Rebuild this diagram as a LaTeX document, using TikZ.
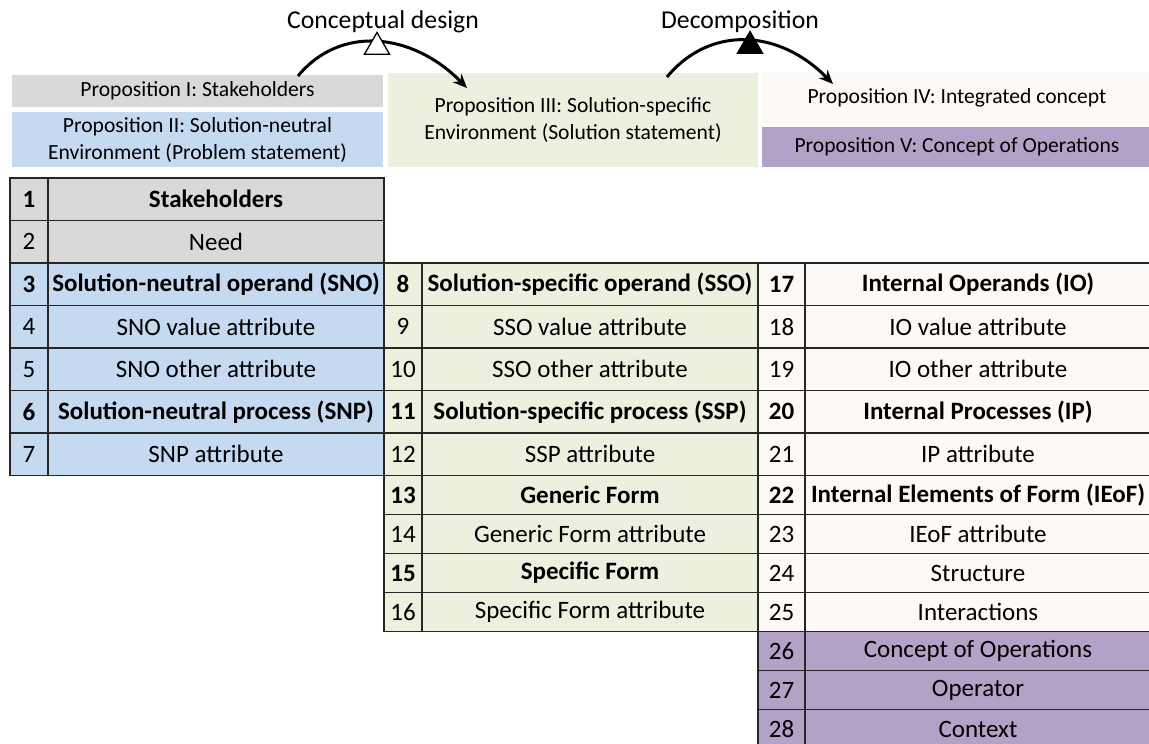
\documentclass[tikz,border=0pt]{standalone}
\usepackage{fontspec}
\setmainfont{Carlito}
\usetikzlibrary{arrows.meta,shapes.geometric}

\definecolor{graycell}{HTML}{D9D9D9}
\definecolor{bluecell}{HTML}{C5D9F1}
\definecolor{greencell}{HTML}{EBF1DE}
\definecolor{whitecell}{HTML}{FDF9F6}
\definecolor{purplecell}{HTML}{B3A2C7}

\tikzset{
  prop/.style={inner sep=0pt, align=center, font=\fontsize{21.6}{27}\selectfont},
  cell/.style={draw=black!85, line width=1.6pt, inner sep=0pt, font=\fontsize{25}{29}\selectfont},
  bold/.style={font=\fontsize{25}{29}\selectfont\bfseries},
  gr/.style={cell, fill=graycell}, grb/.style={gr, bold},
  bl/.style={cell, fill=bluecell}, blb/.style={bl, bold},
  gn/.style={cell, fill=greencell}, gnb/.style={gn, bold},
  wh/.style={cell, fill=whitecell}, whb/.style={wh, bold},
  pu/.style={cell, fill=purplecell},
  flow/.style={line width=3pt, -{Stealth[length=14pt,width=12pt]}},
  marker/.style={regular polygon, regular polygon sides=3, minimum size=29pt, inner sep=0pt, draw, line width=1.3pt},
  title/.style={font=\fontsize{25.7}{30}\selectfont}
}

\begin{document}
\begin{tikzpicture}[x=1pt, y=-1pt]
	\useasboundingbox (0,0) rectangle (1149,744);

	\node[title] (cd) at (383,22) {Conceptual design};
	\node[title] (dc) at (740,22) {Decomposition};

	\node[prop, fill=graycell, minimum width=371pt, minimum height=32pt] (p1) at (197.5,91) {Proposition I: Stakeholders};
	\node[prop, fill=bluecell, minimum width=371pt, minimum height=55pt] (p2) at (197.5,139.5) {Proposition II: Solution-neutral\\Environment (Problem statement)};
	\node[prop, fill=greencell, minimum width=370pt, minimum height=94pt] (p3) at (573,120) {Proposition III: Solution-specific\\Environment (Solution statement)};
	\node[prop, fill=whitecell, minimum width=390pt, minimum height=51pt] (p4) at (957,97.5) {Proposition IV: Integrated concept};
	\node[prop, fill=purplecell, minimum width=390pt, minimum height=40pt] (p5) at (957,147) {Proposition V: Concept of Operations};

	\coordinate (a1) at (298,76);
	\coordinate (a2) at (467,88);
	\draw[flow] (a1) .. controls (340,25) and (412,32) .. (a2);
	\node[marker, fill=white] (m1) at (377,47) {};

	\coordinate (b1) at (667,77);
	\coordinate (b2) at (833,84);
	\draw[flow] (b1) .. controls (709,26) and (778,28) .. (b2);
	\node[marker, fill=black] (m2) at (750,46) {};

	\foreach \i/\y/\h/\s/\txt in {
		1/199.25/42.5/grb/Stakeholders,
		2/241.75/42.5/gr/Need,
		3/284.25/42.5/blb/{Solution-neutral operand (SNO)},
		4/326.75/42.5/bl/{SNO value attribute},
		5/369.25/42.5/bl/{SNO other attribute},
		6/411.75/42.5/blb/{Solution-neutral process (SNP)},
		7/454.25/42.5/bl/{SNP attribute}}
	{
		\node[\s, minimum width=38pt, minimum height=\h pt] (n\i) at (29,\y) {\i};
		\node[\s, minimum width=336pt, minimum height=\h pt] (t\i) at (216,\y) {\txt};
	}

	\foreach \i/\y/\h/\s/\txt in {
		8/284.25/42.5/gnb/{Solution-specific operand (SSO)},
		9/326.75/42.5/gn/{SSO value attribute},
		10/369.25/42.5/gn/{SSO other attribute},
		11/411.75/42.5/gnb/{Solution-specific process (SSP)},
		12/454.25/42.5/gn/{SSP attribute},
		13/495/39/gnb/{Generic Form},
		14/534/39/gn/{Generic Form attribute},
		15/573/39/gnb/{Specific Form},
		16/612/39/gn/{Specific Form attribute}}
	{
		\node[\s, minimum width=38pt, minimum height=\h pt] (n\i) at (403,\y) {\i};
		\node[\s, minimum width=336pt, minimum height=\h pt] (t\i) at (590,\y) {\txt};
	}

	\foreach \i/\y/\h/\s/\txt in {
		17/284.25/42.5/whb/{Internal Operands (IO)},
		18/326.75/42.5/wh/{IO value attribute},
		19/369.25/42.5/wh/{IO other attribute},
		20/411.75/42.5/whb/{Internal Processes (IP)},
		21/454.25/42.5/wh/{IP attribute},
		22/495/39/whb/{Internal Elements of Form (IEoF)},
		23/534/39/wh/{IEoF attribute},
		24/573/39/wh/Structure,
		25/612/39/wh/Interactions,
		26/651/39/pu/{Concept of Operations},
		27/690/39/pu/Operator,
		28/729/39/pu/Context}
	{
		\node[\s, minimum width=47pt, minimum height=\h pt] (n\i) at (781.5,\y) {\i};
		\node[\s, minimum width=346pt, minimum height=\h pt] (t\i) at (978,\y) {\txt};
	}
\end{tikzpicture}
\end{document}
